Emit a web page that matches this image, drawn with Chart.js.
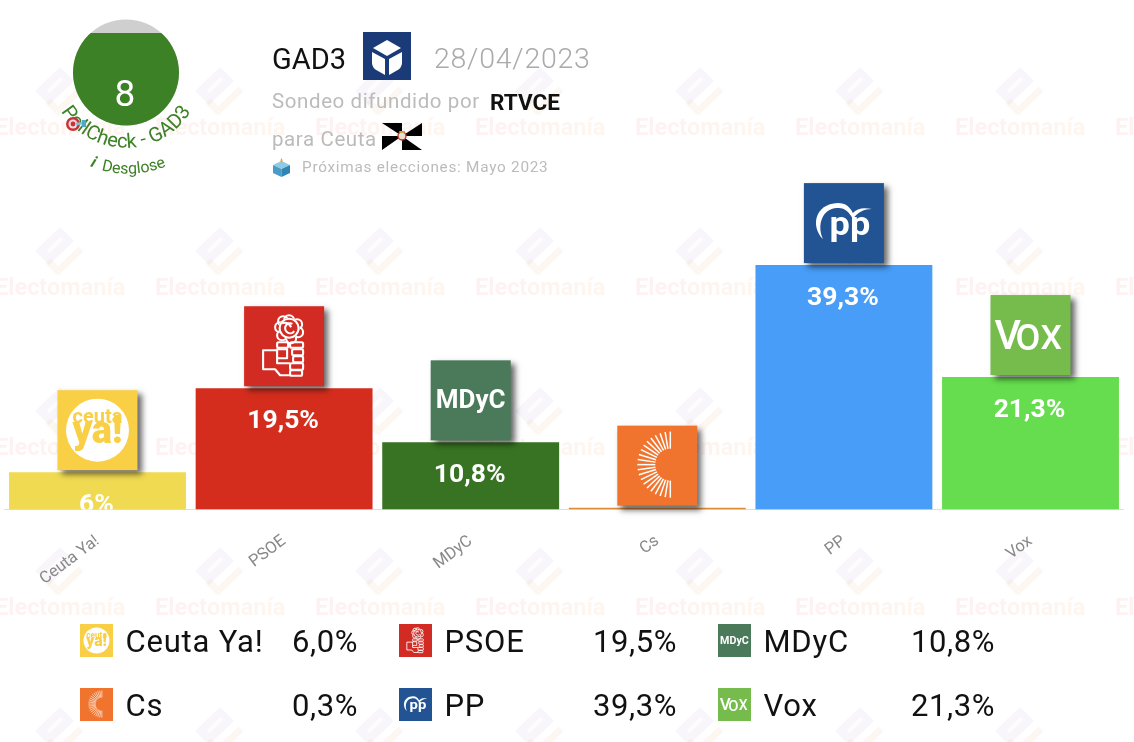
<!DOCTYPE html>
<html lang="es"><head><meta charset="utf-8">
<script src="https://cdn.jsdelivr.net/npm/chart.js@4"></script>
<style>
html,body{margin:0;padding:0;background:#fff;overflow:hidden}
#wrap{position:relative;width:1134px;height:742px;font-family:Roboto,sans-serif}
canvas{position:absolute;left:0;top:0}
.t{position:absolute;white-space:nowrap;line-height:1}
svg{position:absolute;left:0;top:0;pointer-events:none}
</style></head><body>
<div id="wrap">
<canvas id="c" width="1134" height="742"></canvas>
<svg width="1134" height="742" viewBox="0 0 1134 742">
  <defs>
    <clipPath id="cc"><circle cx="126" cy="72.5" r="53"/></clipPath>
    <path id="a1" d="M51.2 85.2 A76 76 0 0 0 200.8 85.2" fill="none"/>
    <path id="a2" d="M61.7 148.600 A100 100 0 0 0 194.300 148.600" fill="none"/>
  </defs>
  <circle cx="126" cy="72.5" r="53" fill="#cfcfcf"/>
  <rect x="70" y="33" width="112" height="95" fill="#3d8127" clip-path="url(#cc)"/>
  <text x="125" y="106" font-family="Roboto" font-weight="400" font-size="37" fill="#fff" text-anchor="middle">8</text>
  <text font-family="Roboto" font-size="20" fill="#3d8127"><textPath href="#a1" startOffset="50%" text-anchor="middle">PollCheck - GAD3</textPath></text>
  <text font-family="Roboto" font-size="16" fill="#3d8127"><textPath href="#a2" startOffset="50%" text-anchor="middle"><tspan font-weight="700" font-style="italic">i</tspan>&#160;&#160;Desglose</textPath></text>
  <circle cx="73" cy="124" r="7" fill="#c8323a"/><circle cx="73" cy="124" r="4.5" fill="#f3d9d9"/><circle cx="73" cy="124" r="2.4" fill="#c8323a"/>
  <path d="M76 124 L84 123" stroke="#7fc4d8" stroke-width="2.4"/><path d="M82 120 L86 120 L86 127 L82 127Z" fill="#4fa9c4"/>
  <!-- encuestadora -->
  <rect x="363" y="32" width="48" height="48" fill="#1a3a78"/>
  <path d="M387 40 L401 48 L387 56 L373 48Z" fill="#fff"/>
  <path d="M372 52 L385 59 V75 L378 71 Q372 68 372 63Z" fill="#fff"/>
  <path d="M402 52 L389 59 V75 L396 71 Q402 68 402 63Z" fill="#fff"/>
  <!-- bandera -->
  <path d="M382 123H402V136Z M422 123V136H402Z M422 150H402V136Z M382 150V136H402Z" fill="#000"/>
  <circle cx="402" cy="136" r="4" fill="#e8e0d0" stroke="#c0392b" stroke-width="1.4"/>
  <path d="M399 131h6l-1 2h-4z" fill="#c9a24a"/>
  <!-- urna -->
  <path d="M273 165 L281.500 161 L290 165 L281.500 169Z" fill="#8fcbe6"/>
  <path d="M273 165 L281.500 169 V177 L273 173Z" fill="#4a9cc7"/>
  <path d="M290 165 L281.500 169 V177 L290 173Z" fill="#2f85b3"/>
  <path d="M281.500 158 q-2 3 0 5 q2 -2 0 -5Z" fill="#f0a030"/>
</svg>
<div class="t" style="left:272px;top:45px;font-size:29px;color:#111">GAD3</div>
<div class="t" style="left:434px;top:45px;font-size:28.500px;font-weight:300;color:#aaa;letter-spacing:.75px">28/04/2023</div>
<div class="t" style="left:272px;top:91px;font-size:20.500px;color:#bbb;letter-spacing:.6px">Sondeo difundido por</div>
<div class="t" style="left:490px;top:91px;font-size:22.500px;font-weight:700;color:#111">RTVCE</div>
<div class="t" style="left:272px;top:129px;font-size:20.500px;color:#bbb;letter-spacing:.6px">para Ceuta</div>
<div class="t" style="left:302px;top:160px;font-size:15.300px;color:#bbb;letter-spacing:.75px">Próximas elecciones: Mayo 2023</div>
<div id="legend"></div>
</div>
<script>
const categories = ['Ceuta Ya!', 'PSOE', 'MDyC', 'Cs', 'PP', 'Vox'];
const values = [6, 19.5, 10.8, 0.3, 39.3, 21.3];
const barColors = ['#f0da52', '#d42d1e', '#377322', '#dd8b36', '#479df8', '#66dd4e'];
const logoColors = ['#f9cf45', '#d22b24', '#4b7a5b', '#f0742e', '#225493', '#76bc4c'];
const F = 'Roboto, sans-serif';
const es = (v, d) => (d === undefined ? String(v) : v.toFixed(d)).replace('.', ',');

function paintLogo(ctx, i) { // dibuja el logotipo en una caja de 80 unidades
  ctx.fillStyle = '#fff'; ctx.strokeStyle = '#fff';
  ctx.textAlign = 'center'; ctx.textBaseline = 'alphabetic';
  if (i === 0) {
    ctx.beginPath(); ctx.arc(40, 40, 31.500, 0, 7); ctx.fill();
    ctx.fillStyle = logoColors[0];
    ctx.font = '700 20px ' + F; ctx.fillText('ceuta', 40, 33);
    ctx.font = '900 38px ' + F; ctx.fillText('ya!', 40, 53);
  } else if (i === 1) {
    ctx.lineWidth = 2.1; ctx.lineJoin = 'round';
    [[45,14,5],[53,18,5],[54,26,5],[47,32,5],[38,29,5],[36,21,5],[39,15,5]].forEach(p => {
      ctx.beginPath(); ctx.arc(p[0], p[1], p[2], 0, 7); ctx.stroke(); });
    ctx.fillStyle = logoColors[1];
    ctx.beginPath(); ctx.arc(45, 22, 10.500, 0, 7); ctx.fill();
    ctx.beginPath(); ctx.arc(45, 22, 9.500, 0, 7); ctx.stroke();
    ctx.beginPath(); ctx.arc(46, 22, 5, 0.6, 5.2); ctx.stroke();
    ctx.beginPath(); ctx.moveTo(38, 17); ctx.quadraticCurveTo(44, 15, 47, 21); ctx.stroke();
    [[33,36,11,5.5],[46,36,13,5.5],[48,43,11,6],[49,50,10,6],[46,57,13,6.5],[46,64,12,5.5]].forEach(r => {
      ctx.beginPath(); ctx.roundRect(r[0], r[1], r[2], r[3], 1.5); ctx.stroke(); });
    ctx.beginPath();
    ctx.moveTo(33, 43); ctx.lineTo(43, 43); ctx.lineTo(43, 52); ctx.lineTo(33, 52); ctx.closePath(); ctx.stroke();
    ctx.beginPath();
    ctx.moveTo(33, 44); ctx.lineTo(19, 44); ctx.lineTo(19, 63); ctx.lineTo(31, 63); ctx.lineTo(36, 69); ctx.lineTo(46, 69);
    ctx.moveTo(33, 52); ctx.lineTo(33, 57); ctx.lineTo(46, 57); ctx.stroke();
  } else if (i === 2) {
    ctx.font = '700 26px ' + F; ctx.fillText('MDyC', 40, 48);
  } else if (i === 3) {
    ctx.lineWidth = 1.5;
    for (let k = 0; k <= 20; k++) {
      const a = Math.PI / 2 + k * Math.PI / 20;
      ctx.beginPath();
      ctx.moveTo(53 + 15 * Math.cos(a), 39 + 16 * Math.sin(a));
      ctx.lineTo(53 + 33 * Math.cos(a), 39 + 33 * Math.sin(a));
      ctx.stroke();
    }
  } else if (i === 4) {
    ctx.save(); ctx.translate(46, 52); ctx.scale(0.95, 0.85);
    ctx.font = '700 38px ' + F; ctx.fillText('pp', 0, 0);
    ctx.restore();
    ctx.beginPath();
    ctx.moveTo(19, 56);
    ctx.bezierCurveTo(7, 44, 10, 21, 34, 20);
    ctx.bezierCurveTo(42, 20, 46, 24, 49, 30);
    ctx.bezierCurveTo(53, 25, 60, 24, 68, 26);
    ctx.bezierCurveTo(60, 26, 54, 29, 49, 36);
    ctx.bezierCurveTo(45, 28, 40, 24, 33, 25);
    ctx.bezierCurveTo(18, 26, 13, 42, 19, 56);
    ctx.fill();
  } else {
    ctx.textAlign = 'left';
    ctx.font = '500 41px ' + F; ctx.fillText('V', 4, 54);
    ctx.font = '500 36px ' + F; ctx.fillText('O', 25, 55);
    ctx.font = '500 34px ' + F; ctx.fillText('X', 50, 54);
  }
}

function drawLogo(ctx, i, x, y, w, h, big) {
  ctx.save();
  if (big) { ctx.shadowColor = 'rgba(0,0,0,.6)'; ctx.shadowBlur = 6; ctx.shadowOffsetX = 4; ctx.shadowOffsetY = 4; }
  ctx.fillStyle = logoColors[i];
  ctx.fillRect(x, y, w, h);
  ctx.restore();
  ctx.save();
  ctx.translate(x, y); ctx.scale(w / 80, h / 80);
  paintLogo(ctx, i);
  ctx.restore();
}

const watermark = {
  id: 'watermark',
  beforeDraw(chart) {
    const ctx = chart.ctx;
    ctx.save();
    ctx.fillStyle = '#fff'; ctx.fillRect(0, 0, 1134, 742);
    for (let col = -1; col < 8; col++) {
      const cx = 60 + col * 160;
      for (let row = 0; row < 5; row++) {
        const cy = 95 + row * 160;
        ctx.fillStyle = 'rgba(150,110,195,.07)';
        ctx.beginPath();
        ctx.moveTo(cx - 25, cy - 4); ctx.lineTo(cx, cy - 28); ctx.lineTo(cx + 14, cy - 14); ctx.lineTo(cx - 11, cy + 10); ctx.closePath();
        ctx.fill();
        ctx.strokeStyle = 'rgba(255,255,255,.75)'; ctx.lineWidth = 4;
        ctx.beginPath(); ctx.moveTo(cx - 12, cy - 3); ctx.lineTo(cx + 2, cy - 17); ctx.stroke();
        ctx.strokeStyle = 'rgba(235,160,110,.085)'; ctx.lineWidth = 7;
        ctx.beginPath(); ctx.moveTo(cx + 21, cy - 6); ctx.lineTo(cx - 2, cy + 16); ctx.lineTo(cx - 12, cy + 6); ctx.stroke();
      }
      for (let row = 0; row < 4; row++) {
        const y = 135 + row * 160;
        const g = ctx.createLinearGradient(cx - 65, 0, cx + 65, 0);
        g.addColorStop(0, 'rgba(230,90,90,.08)'); g.addColorStop(1, 'rgba(245,170,90,.1)');
        ctx.fillStyle = g;
        ctx.font = '700 23.500px ' + F; ctx.textAlign = 'left'; ctx.textBaseline = 'alphabetic';
        ctx.fillText('Electomanía', cx - 65, y);
      }
    }
    ctx.restore();
  },
  afterDraw(chart) {
    const ctx = chart.ctx, meta = chart.getDatasetMeta(0), area = chart.chartArea;
    meta.data.forEach((bar, i) => {
      ctx.save();
      ctx.beginPath(); ctx.rect(0, area.top, 1134, area.bottom - area.top); ctx.clip();
      ctx.fillStyle = '#fff'; ctx.font = '700 26.500px ' + F; ctx.textAlign = 'center'; ctx.textBaseline = 'middle';
      ctx.fillText(es(values[i]) + '%', bar.x - 1, bar.y + 33);
      ctx.restore();
    });
    meta.data.forEach((bar, i) => drawLogo(ctx, i, bar.x - 40, bar.y - 82, 80, 80, true));
    legendRows.forEach(l => drawLogo(ctx, l.i, l.x, l.y, 33, 33, false));
  }
};

const legendCols = [[80, 358], [399, 677], [718, 995]];
const legendRowY = [624, 688];
const legendRows = categories.map((c, i) => ({ i, x: legendCols[i % 3][0], y: legendRowY[Math.floor(i / 3)], right: legendCols[i % 3][1] }));
const box = document.getElementById('legend');
legendRows.forEach(l => {
  const a = document.createElement('div'); a.className = 't';
  a.style.cssText = `left:${l.x + 45.5}px;top:${l.y + 2}px;font-size:31px;color:#111;letter-spacing:.8px`;
  a.textContent = categories[l.i]; box.appendChild(a);
  const b = document.createElement('div'); b.className = 't';
  b.style.cssText = `right:${1134 - l.right}px;top:${l.y + 2}px;font-size:31px;color:#111;letter-spacing:.6px`;
  b.textContent = es(values[l.i], 1) + '%'; box.appendChild(b);
});

document.fonts.load('700 20px Roboto').finally(() => new Chart(document.getElementById('c'), {
  type: 'bar',
  plugins: [watermark],
  data: { labels: categories, datasets: [{ data: values, backgroundColor: barColors, borderWidth: 0, barPercentage: 0.948, categoryPercentage: 1 }] },
  options: {
    responsive: false, animation: false, devicePixelRatio: 1,
    layout: { padding: { left: 4.2, right: 10.2, top: 12, bottom: 112.5 } },
    plugins: { legend: { display: false }, tooltip: { enabled: false } },
    scales: {
      x: {
        afterFit(s) { s.height = 120; },
        grid: { display: false, drawTicks: false },
        border: { color: '#ddd', width: 1 },
        ticks: { color: '#888', font: { family: 'Roboto', size: 16.5 }, minRotation: 37, maxRotation: 37, padding: 22 }
      },
      y: { display: false, min: 0, max: 80 }
    }
  }
}));
</script>
</body></html>
